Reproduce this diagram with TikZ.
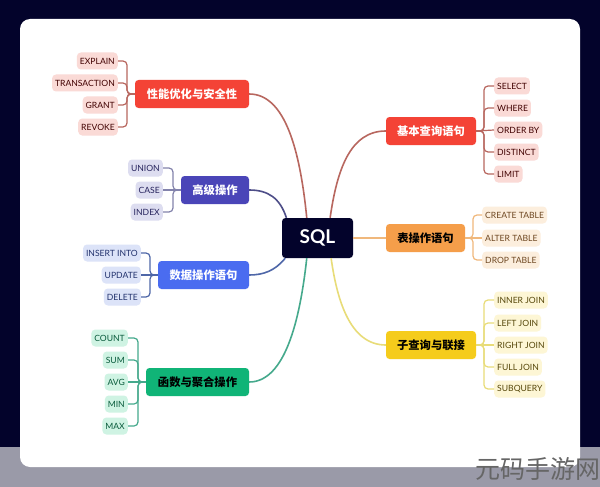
\documentclass[tikz,border=0pt]{standalone}
\usepackage{fontspec}
\setmainfont{Lato}
\newfontfamily\cjkfont{Noto Sans CJK SC}
\definecolor{navy}{HTML}{03032B}
\definecolor{band}{HTML}{9A9AA8}
\definecolor{redmain}{HTML}{F44336}
\definecolor{indigomain}{HTML}{4A45B8}
\definecolor{bluemain}{HTML}{4A6CF0}
\definecolor{greenmain}{HTML}{10B477}
\definecolor{orangemain}{HTML}{F59E4A}
\definecolor{yellowmain}{HTML}{F5CC1C}
\definecolor{redtint}{HTML}{FADAD6}
\definecolor{indigotint}{HTML}{DDDDF0}
\definecolor{bluetint}{HTML}{DCE3F8}
\definecolor{greentint}{HTML}{CFF3E3}
\definecolor{orangetint}{HTML}{FCEEDD}
\definecolor{yellowtint}{HTML}{FDF6D5}
\definecolor{redline}{HTML}{B8675F}
\definecolor{indigoline}{HTML}{4E4E88}
\definecolor{blueline}{HTML}{4F67A8}
\definecolor{greenline}{HTML}{45A98C}
\definecolor{orangeline}{HTML}{F0B87C}
\definecolor{yellowline}{HTML}{E8DC78}
\tikzset{
  topic/.style={rounded corners=3.5pt, minimum height=28pt, inner xsep=0pt, inner ysep=0pt, font=\cjkfont\bfseries\fontsize{11.3}{11.3}\selectfont},
  leafleft/.style={anchor=east, rounded corners=4pt, minimum height=17pt, inner xsep=3pt, inner ysep=0pt, font=\fontsize{8.6}{9}\selectfont},
  leafright/.style={leafleft, anchor=west},
  link/.style={line width=1.6pt},
  bracket/.style={line width=1.2pt, rounded corners=4pt}
}
\begin{document}
\begin{tikzpicture}[x=1pt, y=-1pt]
        \useasboundingbox (0, 0) rectangle (600, 487);
        \fill[navy] (0, 0) rectangle (600, 447);
        \fill[band] (0, 447) rectangle (600, 487);
        \fill[white, rounded corners=10pt] (20, 19) rectangle (580, 467);

        \node[fill=navy, text=white, rounded corners=3.5pt, minimum width=71pt, minimum height=40pt, inner sep=0pt, font=\bfseries\fontsize{19}{19}\selectfont] (sql) at (317.5, 238) {SQL};

        \node[topic, fill=redmain, text=white, minimum width=114pt] (tuning) at (192, 94) {性能优化与安全性};
        \node[topic, fill=indigomain, text=white, minimum width=68pt] (advanced) at (215, 190) {高级操作};
        \node[topic, fill=bluemain, text=white, minimum width=91pt] (dml) at (203.5, 275) {数据操作语句};
        \node[topic, fill=greenmain, text=black, minimum width=103pt] (functions) at (197.5, 382) {函数与聚合操作};
        \node[topic, fill=redmain, text=white, minimum width=90pt] (basic) at (431, 131) {基本查询语句};
        \node[topic, fill=orangemain, text=black, minimum width=79pt] (tables) at (425.5, 238) {表操作语句};
        \node[topic, fill=yellowmain, text=black, minimum width=90pt] (joins) at (431, 345) {子查询与联接};

        \draw[link, redline] (tuning.east) .. controls (285, 94) and (300, 150) .. (sql.118);
        \draw[link, indigoline] (advanced.east) .. controls (268, 190) and (280, 198) .. (sql.147);
        \draw[link, blueline] (dml.east) .. controls (263, 275) and (275, 271) .. (sql.212);
        \draw[link, greenline] (functions.east) .. controls (285, 382) and (300, 320) .. (sql.242);
        \draw[link, redline] (basic.west) .. controls (350, 131) and (337, 170) .. (sql.58);
        \draw[link, orangeline] (tables.west) -- (sql.east |- tables.west);
        \draw[link, yellowline] (joins.west) .. controls (350, 345) and (337, 300) .. (sql.304);

        \node[leafleft, fill=redtint, text=black!75!red] (explain) at (118, 61) {EXPLAIN};
        \node[leafleft, fill=redtint, text=black!75!red] (transaction) at (118, 83) {TRANSACTION};
        \node[leafleft, fill=redtint, text=black!75!red] (grant) at (118, 105) {GRANT};
        \node[leafleft, fill=redtint, text=black!75!red] (revoke) at (118, 127) {REVOKE};
        \node[leafleft, fill=indigotint, text=indigomain!50!black] (union) at (163, 168) {UNION};
        \node[leafleft, fill=indigotint, text=indigomain!50!black] (case) at (163, 190) {CASE};
        \node[leafleft, fill=indigotint, text=indigomain!50!black] (index) at (163, 212) {INDEX};
        \node[leafleft, fill=bluetint, text=bluemain!45!black] (insert) at (141, 253) {INSERT INTO};
        \node[leafleft, fill=bluetint, text=bluemain!45!black] (update) at (141, 275) {UPDATE};
        \node[leafleft, fill=bluetint, text=bluemain!45!black] (delete) at (141, 297) {DELETE};
        \node[leafleft, fill=greentint, text=greenmain!50!black] (count) at (128, 338) {COUNT};
        \node[leafleft, fill=greentint, text=greenmain!50!black] (sum) at (128, 360) {SUM};
        \node[leafleft, fill=greentint, text=greenmain!50!black] (avg) at (128, 382) {AVG};
        \node[leafleft, fill=greentint, text=greenmain!50!black] (min) at (128, 404) {MIN};
        \node[leafleft, fill=greentint, text=greenmain!50!black] (max) at (128, 426) {MAX};
        \node[leafright, fill=redtint, text=black!75!red] (select) at (494, 86) {SELECT};
        \node[leafright, fill=redtint, text=black!75!red] (where) at (494, 108) {WHERE};
        \node[leafright, fill=redtint, text=black!75!red] (orderby) at (494, 130) {ORDER BY};
        \node[leafright, fill=redtint, text=black!75!red] (distinct) at (494, 152) {DISTINCT};
        \node[leafright, fill=redtint, text=black!75!red] (limit) at (494, 174) {LIMIT};
        \node[leafright, fill=orangetint, text=orangemain!45!black] (create) at (482, 215) {CREATE TABLE};
        \node[leafright, fill=orangetint, text=orangemain!45!black] (alter) at (482, 238) {ALTER TABLE};
        \node[leafright, fill=orangetint, text=orangemain!45!black] (drop) at (482, 260) {DROP TABLE};
        \node[leafright, fill=yellowtint, text=yellowmain!35!black] (inner) at (494, 300) {INNER JOIN};
        \node[leafright, fill=yellowtint, text=yellowmain!35!black] (left) at (494, 323) {LEFT JOIN};
        \node[leafright, fill=yellowtint, text=yellowmain!35!black] (right) at (494, 345) {RIGHT JOIN};
        \node[leafright, fill=yellowtint, text=yellowmain!35!black] (full) at (494, 367) {FULL JOIN};
        \node[leafright, fill=yellowtint, text=yellowmain!35!black] (subquery) at (494, 389) {SUBQUERY};

        \coordinate (tuningfork) at (127, 94);
        \coordinate (advancedfork) at (173, 190);
        \coordinate (dmlfork) at (150, 275);
        \coordinate (functionsfork) at (138, 382);
        \coordinate (basicfork) at (484, 131);
        \coordinate (tablesfork) at (473, 238);
        \coordinate (joinsfork) at (484, 345);

        \draw[bracket, redline] (tuning.west) -- (tuningfork) |- (explain.east);
        \draw[bracket, redline] (tuning.west) -- (tuningfork) |- (transaction.east);
        \draw[bracket, redline] (tuning.west) -- (tuningfork) |- (grant.east);
        \draw[bracket, redline] (tuning.west) -- (tuningfork) |- (revoke.east);
        \draw[bracket, indigoline!70] (advanced.west) -- (advancedfork) |- (union.east);
        \draw[bracket, indigoline!70] (advanced.west) -- (case.east);
        \draw[bracket, indigoline!70] (advanced.west) -- (advancedfork) |- (index.east);
        \draw[bracket, blueline] (dml.west) -- (dmlfork) |- (insert.east);
        \draw[bracket, blueline] (dml.west) -- (update.east);
        \draw[bracket, blueline] (dml.west) -- (dmlfork) |- (delete.east);
        \draw[bracket, greenline] (functions.west) -- (functionsfork) |- (count.east);
        \draw[bracket, greenline] (functions.west) -- (functionsfork) |- (sum.east);
        \draw[bracket, greenline] (functions.west) -- (avg.east);
        \draw[bracket, greenline] (functions.west) -- (functionsfork) |- (min.east);
        \draw[bracket, greenline] (functions.west) -- (functionsfork) |- (max.east);
        \draw[bracket, redline] (basic.east) -- (basicfork) |- (select.west);
        \draw[bracket, redline] (basic.east) -- (basicfork) |- (where.west);
        \draw[bracket, redline] (basic.east) -- (orderby.west);
        \draw[bracket, redline] (basic.east) -- (basicfork) |- (distinct.west);
        \draw[bracket, redline] (basic.east) -- (basicfork) |- (limit.west);
        \draw[bracket, orangeline] (tables.east) -- (tablesfork) |- (create.west);
        \draw[bracket, orangeline] (tables.east) -- (alter.west);
        \draw[bracket, orangeline] (tables.east) -- (tablesfork) |- (drop.west);
        \draw[bracket, yellowline] (joins.east) -- (joinsfork) |- (inner.west);
        \draw[bracket, yellowline] (joins.east) -- (joinsfork) |- (left.west);
        \draw[bracket, yellowline] (joins.east) -- (right.west);
        \draw[bracket, yellowline] (joins.east) -- (joinsfork) |- (full.west);
        \draw[bracket, yellowline] (joins.east) -- (joinsfork) |- (subquery.west);

        \node[text=black!60, inner sep=0pt, font=\cjkfont\fontsize{25}{25}\selectfont] (sitemark) at (537.5, 469) {元码手游网};
      \end{tikzpicture}
\end{document}
